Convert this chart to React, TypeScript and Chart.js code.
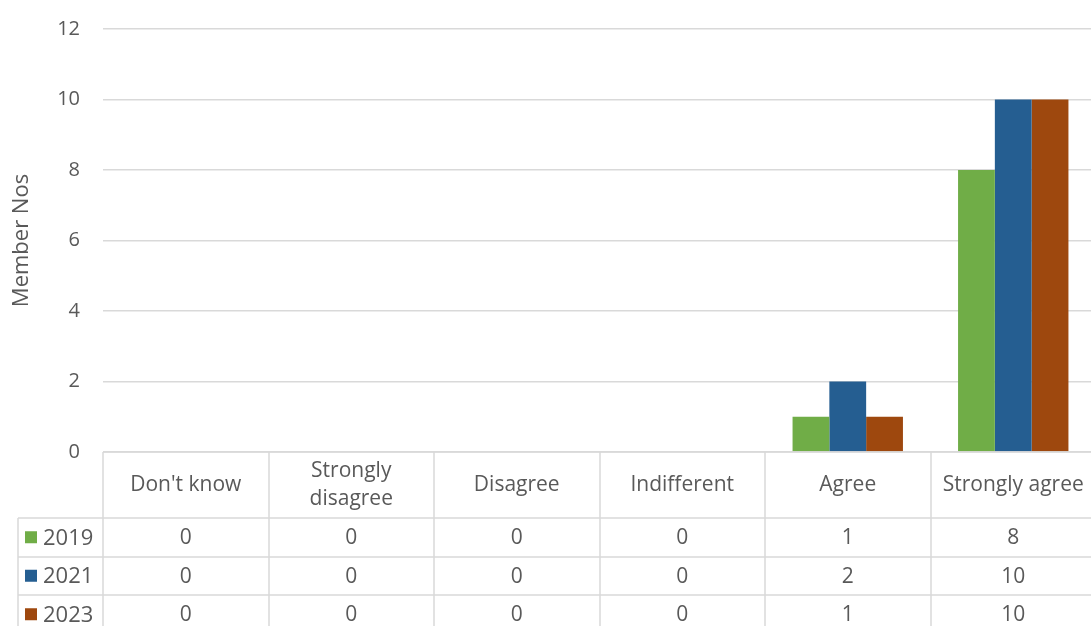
import React, { useEffect, useRef } from "react";
import { Chart, registerables } from "chart.js";

Chart.register(...registerables);

const categories = ["Don't know", "Strongly disagree", "Disagree", "Indifferent", "Agree", "Strongly agree"];
const seriesNames = ["2019", "2021", "2023"];
const values2019 = [0, 0, 0, 0, 1, 8];
const values2021 = [0, 0, 0, 0, 2, 10];
const values2023 = [0, 0, 0, 0, 1, 10];
const seriesColors = ["#70ad47", "#255e91", "#9e480e"];
const yTicks = [0, 2, 4, 6, 8, 10, 12];

const FONT = "'Open Sans', 'Noto Sans', sans-serif";
const TEXT = "#595959";
const LINE = "#d9d9d9";

const tablePlugin = {
  id: "dataTable",
  afterDraw(chart: any) {
    const ctx = chart.ctx;
    const xs = chart.scales.x;
    const area = chart.chartArea;
    const n = categories.length;
    const catW = (area.right - area.left) / n;
    const top = area.bottom;
    const headerH = 66;
    const rowH = 38.5;
    const tableLeft = 18;
    const bottom = top + headerH + rowH * seriesNames.length;
    ctx.save();
    ctx.strokeStyle = LINE;
    ctx.lineWidth = 1.5;
    const hl = (x1: number, x2: number, y: number) => {
      ctx.beginPath();
      ctx.moveTo(x1, Math.round(y));
      ctx.lineTo(x2, Math.round(y));
      ctx.stroke();
    };
    const vl = (x: number, y1: number, y2: number) => {
      ctx.beginPath();
      ctx.moveTo(Math.round(x), y1);
      ctx.lineTo(Math.round(x), y2);
      ctx.stroke();
    };
    hl(area.left, area.right, top);
    for (let r = 0; r <= seriesNames.length; r++) {
      hl(tableLeft, area.right, top + headerH + r * rowH);
    }
    for (let i = 0; i <= n; i++) {
      vl(area.left + i * catW, top, bottom);
    }
    vl(tableLeft, top + headerH, bottom);

    ctx.fillStyle = TEXT;
    ctx.font = `21px ${FONT}`;
    ctx.textAlign = "center";
    ctx.textBaseline = "middle";
    categories.forEach((c, i) => {
      const cx = xs.getPixelForValue(i);
      const maxW = catW - 8;
      const words = c.split(" ");
      const lines: string[] = [];
      let cur = "";
      words.forEach((w) => {
        const t = cur ? cur + " " + w : w;
        if (ctx.measureText(t).width > maxW && cur) {
          lines.push(cur);
          cur = w;
        } else cur = t;
      });
      lines.push(cur);
      const lh = 28;
      const cy = top + headerH / 2;
      lines.forEach((l, k) => {
        ctx.fillText(l, cx, cy + (k - (lines.length - 1) / 2) * lh);
      });
    });
    const data = chart.data.datasets;
    data.forEach((ds: any, r: number) => {
      const cy = top + headerH + r * rowH + rowH / 2;
      ctx.fillStyle = ds.backgroundColor;
      ctx.fillRect(25, cy - 6, 12, 12);
      ctx.fillStyle = TEXT;
      ctx.textAlign = "left";
      ctx.font = `22px ${FONT}`;
      ctx.fillText(ds.label, 43, cy + 1);
      ctx.font = `21px ${FONT}`;
      ctx.textAlign = "center";
      ds.data.forEach((v: number, i: number) => {
        ctx.fillText(String(v), xs.getPixelForValue(i), cy + 1);
      });
    });
    ctx.restore();
  },
};

export default function App() {
  const ref = useRef<HTMLCanvasElement>(null);
  useEffect(() => {
    const seriesValues = [values2019, values2021, values2023];
    const chart = new Chart(ref.current!, {
      type: "bar",
      data: {
        labels: categories,
        datasets: seriesNames.map((name, i) => ({
          label: name,
          data: seriesValues[i],
          backgroundColor: seriesColors[i],
          borderWidth: 0,
          categoryPercentage: 0.667,
          barPercentage: 1,
        })),
      },
      options: {
        animation: false,
        responsive: false,
        layout: { padding: { top: 29, bottom: 174, left: 0, right: 0 } },
        plugins: { legend: { display: false }, tooltip: { enabled: false } },
        scales: {
          x: { display: false },
          y: {
            min: 0,
            max: 12,
            afterBuildTicks: (scale: any) => {
              scale.ticks = yTicks.map((v) => ({ value: v }));
            },
            afterFit: (scale: any) => {
              scale.width = 103;
            },
            grid: { color: LINE, lineWidth: 1.5, drawTicks: true, tickLength: 23, tickColor: "rgba(0,0,0,0)" },
            border: { display: false },
            ticks: { color: TEXT, font: { family: FONT, size: 20 }, padding: 0 },
            title: {
              display: true,
              text: "Member Nos",
              color: TEXT,
              font: { family: FONT, size: 22 },
              padding: { top: 9, bottom: 0 },
            },
          },
        },
      },
      plugins: [tablePlugin],
    });
    return () => chart.destroy();
  }, []);
  return (
    <div style={{ position: "fixed", left: 0, top: 0, width: 1091, height: 626, overflow: "hidden", background: "#fff" }}>
      <canvas ref={ref} width={1096} height={626} style={{ display: "block" }} />
    </div>
  );
}
